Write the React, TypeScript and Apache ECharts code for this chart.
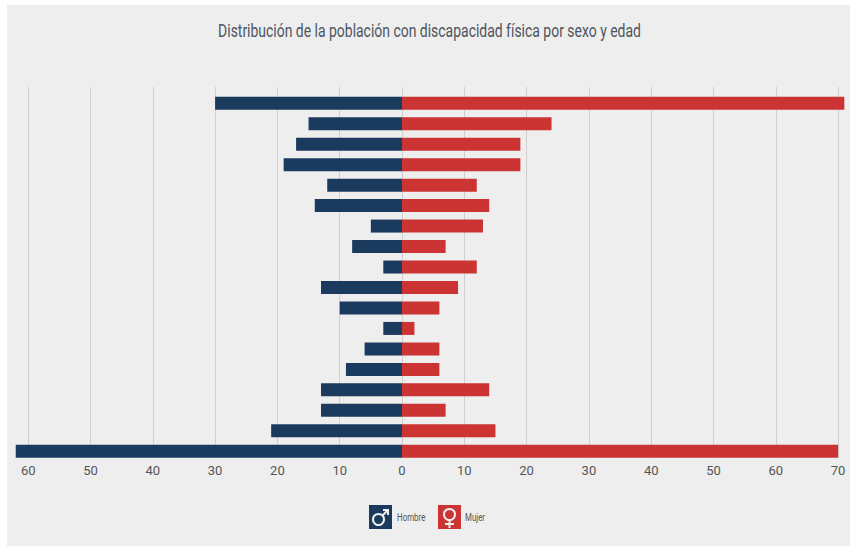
import React, { useEffect, useRef } from "react";
import * as echarts from "echarts";

const titleText = "Distribución de la población con discapacidad física por sexo y edad";
const legendLabels = ["Hombre", "Mujer"];
const groups = ["G1","G2","G3","G4","G5","G6","G7","G8","G9","G10","G11","G12","G13","G14","G15","G16","G17","G18"];
const hombre = [30, 15, 17, 19, 12, 14, 5, 8, 3, 13, 10, 3, 6, 9, 13, 13, 21, 62];
const mujer = [71, 24, 19, 19, 12, 14, 13, 7, 12, 9, 6, 2, 6, 6, 14, 7, 15, 70];
const visibleTicks = [-60, -50, -40, -30, -20, -10, 0, 10, 20, 30, 40, 50, 60, 70];

const NAVY = "#1a3a5e";
const RED = "#cc3333";
const FONT = "Roboto, sans-serif";

export default function App() {
  const ref = useRef<HTMLDivElement>(null);
  useEffect(() => {
    const chart = echarts.init(ref.current!, null, { renderer: "svg" });
    const valueAxis = { type: "value", min: -70, max: 80, interval: 10 };
    const glyph = { stroke: "#eeeeee", lineWidth: 2, fill: "none" };
    chart.setOption({
      animation: false,
      backgroundColor: "transparent",
      grid: [
        { left: -34.1, top: 93, width: 934.5, height: 368.5, outerBoundsMode: "none" },
        { left: -34.1, top: 87, width: 934.5, height: 371, outerBoundsMode: "none" },
      ],
      xAxis: [
        { ...valueAxis, gridIndex: 0, show: false },
        {
          ...valueAxis,
          gridIndex: 1,
          axisLine: { show: false },
          axisTick: { show: false },
          splitLine: { show: true, lineStyle: { color: "#cfcfcf", width: 1 } },
          axisLabel: {
            margin: 6,
            fontFamily: FONT,
            fontSize: 13,
            color: "#555555",
            formatter: (v: number) => (visibleTicks.includes(v) ? String(Math.abs(v)) : ""),
          },
        },
      ],
      yAxis: [
        { type: "category", gridIndex: 0, inverse: true, data: groups, show: false },
        { type: "category", gridIndex: 1, data: [""], show: false },
      ],
      series: [
        {
          name: legendLabels[0],
          type: "bar",
          xAxisIndex: 0,
          yAxisIndex: 0,
          barWidth: 13,
          barGap: "-100%",
          itemStyle: { color: NAVY },
          data: hombre.map((v) => -v),
        },
        {
          name: legendLabels[1],
          type: "bar",
          xAxisIndex: 0,
          yAxisIndex: 0,
          barWidth: 13,
          barGap: "-100%",
          itemStyle: { color: RED },
          data: mujer,
        },
      ],
      graphic: [
        {
          type: "text", z: 100, x: 429.5, y: 31, scaleX: 0.735, scaleY: 1,
          style: { text: titleText, font: `19px ${FONT}`, fill: "#4d5560", textAlign: "center", textVerticalAlign: "middle" },
        },
        { type: "rect", z: 100, shape: { x: 369, y: 505, width: 23, height: 24 }, style: { fill: NAVY } },
        { type: "rect", z: 100, shape: { x: 438, y: 505, width: 23, height: 24 }, style: { fill: RED } },
        { type: "circle", z: 101, shape: { cx: 378.5, cy: 519.5, r: 5.5 }, style: glyph },
        { type: "line", z: 101, shape: { x1: 382.5, y1: 515.5, x2: 388, y2: 510 }, style: glyph },
        { type: "polyline", z: 101, shape: { points: [[383, 510], [388, 510], [388, 515]] }, style: glyph },
        { type: "circle", z: 101, shape: { cx: 449.5, cy: 514.5, r: 5.5 }, style: glyph },
        { type: "line", z: 101, shape: { x1: 449.5, y1: 520, x2: 449.5, y2: 528 }, style: glyph },
        { type: "line", z: 101, shape: { x1: 445, y1: 524, x2: 454, y2: 524 }, style: glyph },
        {
          type: "text", z: 100, x: 397, y: 517, scaleX: 0.72, scaleY: 1,
          style: { text: legendLabels[0], font: `11px ${FONT}`, fill: "#555555", textAlign: "left", textVerticalAlign: "middle" },
        },
        {
          type: "text", z: 100, x: 465, y: 517, scaleX: 0.72, scaleY: 1,
          style: { text: legendLabels[1], font: `11px ${FONT}`, fill: "#555555", textAlign: "left", textVerticalAlign: "middle" },
        },
      ],
    });
    return () => chart.dispose();
  }, []);
  return (
    <div style={{ position: "absolute", left: 0, top: 0, width: 856, height: 546, background: "#ffffff", overflow: "hidden" }}>
      <div style={{ position: "absolute", left: 7, top: 5, width: 843, height: 541, background: "#eeeeee" }} />
      <div ref={ref} style={{ position: "absolute", left: 0, top: 0, width: 856, height: 546 }} />
    </div>
  );
}
